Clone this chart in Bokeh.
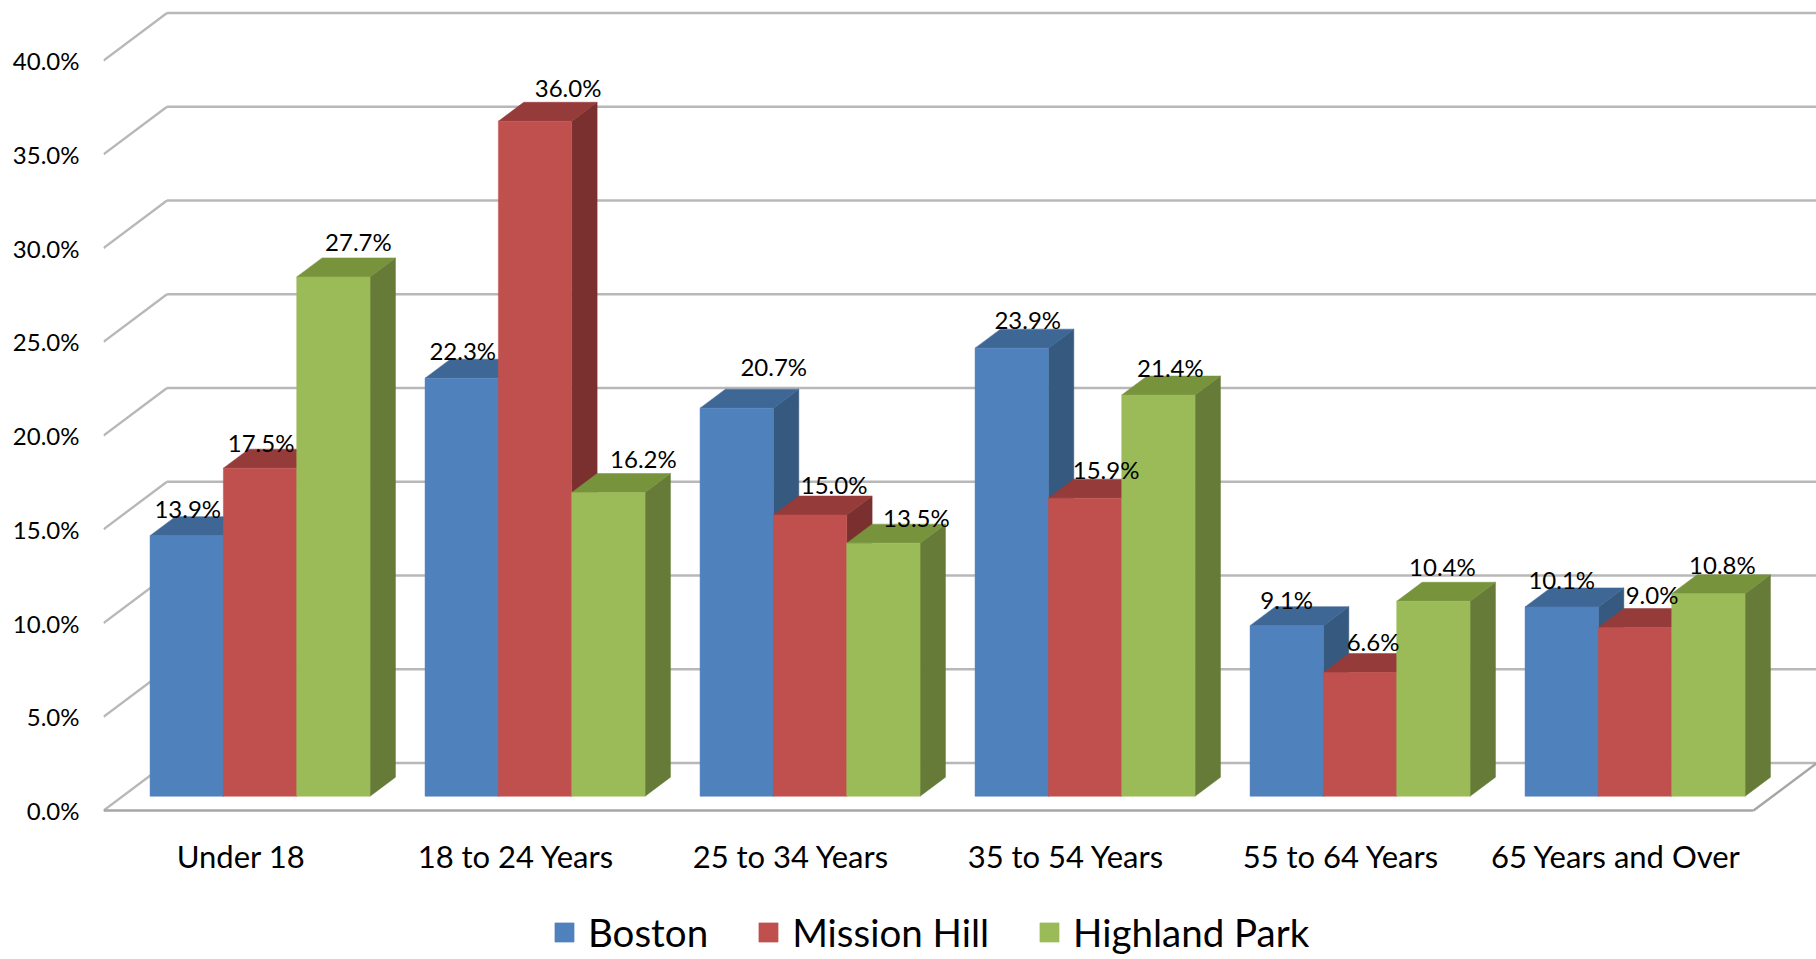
from bokeh.plotting import figure
from bokeh.models import (Range1d, FixedTicker, PrintfTickFormatter, Legend,
                          LegendItem, ColumnDataSource)
from bokeh.core.properties import value
from bokeh.embed import file_html
from bokeh.resources import INLINE

# ---------------- data ----------------
categories = ["Under 18", "18 to 24 Years", "25 to 34 Years",
              "35 to 54 Years", "55 to 64 Years", "65 Years and Over"]
series_names = ["Boston", "Mission Hill", "Highland Park"]
boston = [13.9, 22.3, 20.7, 23.9, 9.1, 10.1]
mission_hill = [17.5, 36.0, 15.0, 15.9, 6.6, 9.0]
highland_park = [27.7, 16.2, 13.5, 21.4, 10.4, 10.8]
y_ticks = [0, 5, 10, 15, 20, 25, 30, 35, 40]

# label nudges in screen px (right, up) relative to bar top
label_nudge = [
    [(1, 8), (1, 9), (37, 23), (16, 10), (0, 7), (0, 8)],
    [(1, 7), (33, 15), (24, 12), (21, 10), (13, 12), (17, 14)],
    [(25, 16), (35, 15), (33, 7), (12, 9), (9, 16), (14, 10)],
]

# ---------------- styles ----------------
front_cols = ["#4F81BD", "#C0504D", "#9BBB59"]
top_cols = ["#3E6796", "#953B39", "#77933C"]
side_cols = ["#36597F", "#7A302E", "#657B37"]
FONT = "Lato"

# ---------------- geometry ----------------
W, H = 1816, 955
LEFT = 103
PX_PER_CAT = 275.0
PX_PER_PCT = 18.75
ZERO_FROM_BOTTOM = H - 810
x_end = (W - LEFT) / PX_PER_CAT
y_start = -ZERO_FROM_BOTTOM / PX_PER_PCT
y_end = (H - ZERO_FROM_BOTTOM) / PX_PER_PCT
DX = 63.5 / PX_PER_CAT
DY = 47.5 / PX_PER_PCT
D1, D2 = 0.3, 0.7
GROUP = 0.8
BW = GROUP / 3
n = len(categories)

p = figure(width=W, height=H, x_range=Range1d(0, x_end),
           y_range=Range1d(y_start, y_end), output_backend="svg",
           toolbar_location=None, x_axis_location=None,
           min_border_left=LEFT, min_border_right=0, min_border_top=0,
           min_border_bottom=0)
p.grid.visible = False
p.outline_line_color = None
p.background_fill_color = "white"
p.border_fill_color = "white"

ax = p.yaxis[0]
ax.ticker = FixedTicker(ticks=y_ticks)
ax.formatter = PrintfTickFormatter(format="%.1f%%")
ax.major_label_text_font = FONT
ax.major_label_text_font_size = "24px"
ax.major_label_text_color = "#000000"
ax.axis_line_color = None
ax.major_tick_line_color = None
ax.minor_tick_line_color = None
ax.major_tick_out = 0
ax.major_tick_in = 0
ax.major_label_standoff = 24

# walls / gridlines
diag = dict(x0=[0.0] * len(y_ticks), y0=list(y_ticks),
            x1=[DX] * len(y_ticks), y1=[t + DY for t in y_ticks])
back = dict(x0=[DX] * len(y_ticks), y0=[t + DY for t in y_ticks],
            x1=[x_end] * len(y_ticks), y1=[t + DY for t in y_ticks])
p.segment(source=ColumnDataSource(diag), x0="x0", y0="y0", x1="x1", y1="y1",
          line_color="#b8b8b8", line_width=2.4)
p.segment(source=ColumnDataSource(back), x0="x0", y0="y0", x1="x1", y1="y1",
          line_color="#b8b8b8", line_width=2.4)
# floor
p.segment(x0=[0, n], y0=[0, 0], x1=[n, n + DX], y1=[0, DY],
          line_color="#a6a6a6", line_width=2.4)

# bars
ddx = (D2 - D1) * DX
ddy = (D2 - D1) * DY
legend_items = []
lx, ly, lt = [], [], []
for j, vals in enumerate([boston, mission_hill, highland_park]):
    Ls, Rs, Bs, Ts = [], [], [], []
    side_x, side_y, top_x, top_y = [], [], [], []
    for i, v in enumerate(vals):
        L = i + (1 - GROUP) / 2 + j * BW + D1 * DX
        R = L + BW
        B = D1 * DY
        T = v + B
        Ls.append(L); Rs.append(R); Bs.append(B); Ts.append(T)
        side_x.append([R, R, R + ddx, R + ddx])
        side_y.append([B, T, T + ddy, B + ddy])
        top_x.append([L, R, R + ddx, L + ddx])
        top_y.append([T, T, T + ddy, T + ddy])
        nx, ny = label_nudge[j][i]
        lx.append((L + R) / 2 + nx / PX_PER_CAT)
        ly.append(T + ddy + ny / PX_PER_PCT)
        lt.append(f"{v:.1f}%")
    p.patches(side_x, side_y, fill_color=side_cols[j], line_color=side_cols[j],
              line_width=0.5)
    p.patches(top_x, top_y, fill_color=top_cols[j], line_color=top_cols[j],
              line_width=0.5)
    r = p.quad(left=Ls, right=Rs, bottom=Bs, top=Ts, fill_color=front_cols[j],
               line_color=front_cols[j], line_width=0.5)
    legend_items.append(LegendItem(label=series_names[j], renderers=[r]))

# data labels on top of all bars
p.text(x=lx, y=ly, text=lt, text_align="center", text_baseline="middle",
       text_font=value(FONT), text_font_size="24px", text_color="#000000")

# category labels
p.text(x=[i + 0.5 for i in range(n)], y=[-2.45] * n, text=categories,
       text_align="center", text_baseline="middle", text_font=value(FONT),
       text_font_size="31px", text_color="#000000")

legend = Legend(items=legend_items, orientation="horizontal", location=(449, 0),
                label_text_font=FONT, label_text_font_size="38.5px",
                label_text_color="#000000", glyph_width=24, glyph_height=24,
                label_standoff=12, spacing=48, padding=0, margin=0,
                border_line_color=None, background_fill_alpha=0)
p.add_layout(legend)

open("out.html", "w").write(file_html(p, INLINE))
